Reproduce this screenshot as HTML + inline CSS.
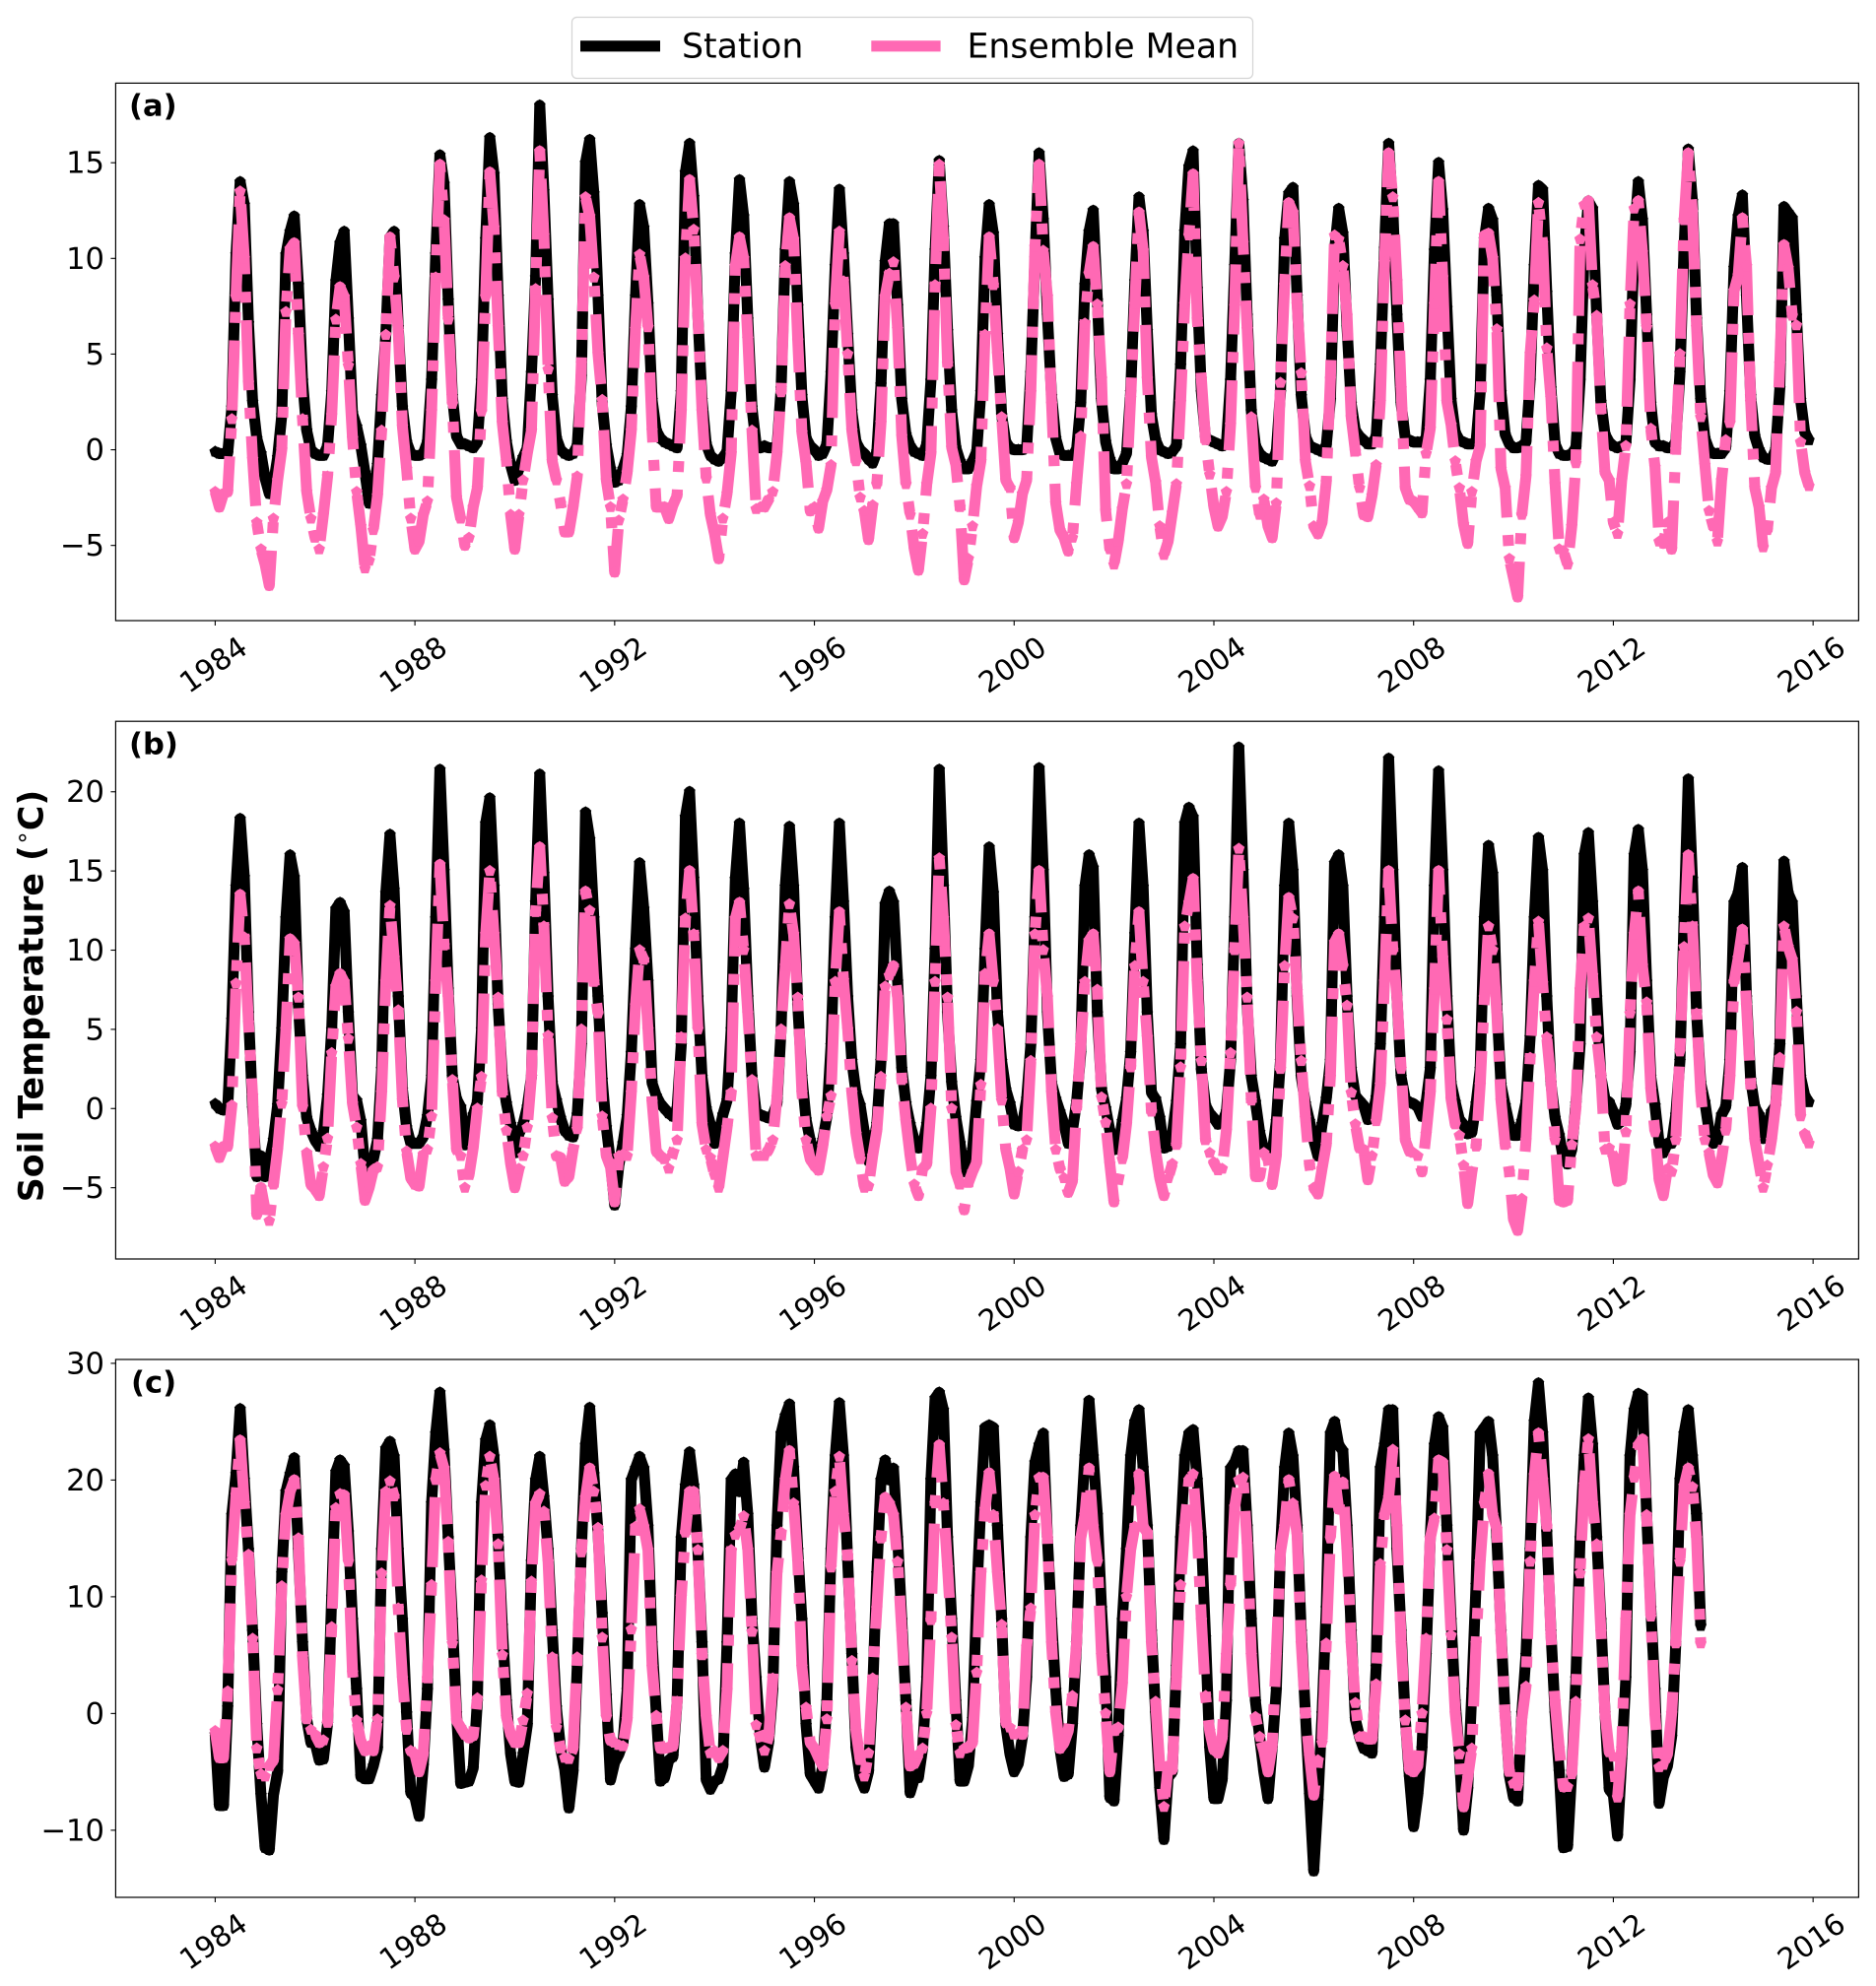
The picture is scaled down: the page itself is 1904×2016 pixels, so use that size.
<!DOCTYPE html>
<html lang="en">
<head>
<meta charset="utf-8">
<title>Soil Temperature: Station vs Ensemble Mean</title>
<style>
html,body{margin:0;padding:0;background:#fff;}
svg{display:block;font-family:"DejaVu Sans","Liberation Sans",sans-serif;}
</style>
</head>
<body>
<svg id="chart" xmlns="http://www.w3.org/2000/svg" width="1904" height="2016" viewBox="0 0 1904 2016">
<rect x="0" y="0" width="1904" height="2016" fill="#fff"/>
<g id="panels"></g>
<g>
<rect x="580.5" y="17.5" width="691" height="62" rx="5" ry="5" fill="#fff" stroke="#d4d4d4" stroke-width="1.2"/>
<line x1="589" y1="46.8" x2="670" y2="46.8" stroke="#000" stroke-width="11.1"/>
<text x="692" y="58.5" font-size="34.7" fill="#000">Station</text>
<line x1="884.3" y1="46.8" x2="954.6" y2="46.8" stroke="#FF69B4" stroke-width="11.1"/>
<text x="981.5" y="58.5" font-size="34.7" fill="#000">Ensemble Mean</text>
</g>
<text transform="translate(43.5,1011) rotate(-90)" text-anchor="middle" font-size="34.7" font-weight="bold" fill="#000">Soil Temperature (<tspan font-weight="normal" font-size="24" dy="-13">∘</tspan><tspan dy="13">C)</tspan></text>
</svg>
<script>
const startYear = 1984;
const xTickYears = [1984,1988,1992,1996,2000,2004,2008,2012,2016];
const yTicksA = [-5,0,5,10,15];
const yTicksB = [-5,0,5,10,15,20];
const yTicksC = [-10,0,10,20,30];

const stationA = [
-0.1,-0.2,-0.2,-0.2,2.2,10.2,14,12.8,6.6,2.5,0.6,-0.2,
-1.5,-2.3,-1.8,-0.4,1.8,10.2,11.4,12.2,8.6,3.6,1,0,
-0.2,-0.3,-0.3,0.2,3,8.8,10.8,11.4,6.8,1.9,1.2,0.2,
-1.2,-2.8,-2.2,-0.8,2.8,6,11.1,11.4,6.4,2.2,0.4,-0.2,
-0.3,-0.3,-0.2,0.4,3.6,10.2,15.4,13.9,7.8,2.8,0.7,0.3,
0.3,0.2,0.1,0.4,3.6,11,16.3,14.4,8,2.6,0.4,-0.8,
-1.6,-1,-0.4,0.1,4,9,18,13.5,7.8,2.8,0.6,0,
-0.2,-0.3,-0.2,0.2,3.8,15,16.2,13.4,8,2.4,0.2,-1,
-1.7,-1.6,-1,-0.3,2.2,8,12.8,11.6,7.6,2.6,1,0.6,
0.4,0.3,0.2,0.1,3,14.5,16,13.2,7,2.6,0.3,-0.3,
-0.5,-0.6,-0.4,-0.1,3,10.2,14.1,12.2,6.8,2.2,0.3,0.1,
0.2,0.1,0.1,0.1,3.2,10.4,14,12.8,7.5,2.8,0.6,0.2,
0,-0.3,-0.2,0.3,4,9.6,13.6,10.2,6,2,0.4,0,
-0.2,-0.5,-0.7,-0.1,3.4,9.8,11.8,11.8,7.5,2.6,0.8,0.2,
-0.1,-0.2,-0.3,0.3,3.6,10.4,15.1,11.6,6.2,2,0.1,-0.6,
-1,-1,-0.6,-0.1,3,10,12.8,11.3,6,1.8,0.4,0.1,
0,0,0,0.1,4,10,15.5,12,7,2.8,0.6,-0.2,
-0.3,-0.3,-0.3,0,2.4,8.6,11.4,12.5,7.8,2.6,0.4,-0.5,
-1,-1,-0.7,-0.2,3,8.8,13.2,11.4,6.2,1.8,0.5,0,
-0.1,-0.2,-0.1,0.2,4.4,11.4,14.8,15.6,8.4,3,0.6,0.5,
0.4,0.3,0.2,0.3,3.6,9.6,16,13,7,2,0.2,-0.2,
-0.4,-0.5,-0.6,-0.1,3,11,13.4,13.7,8,2.8,0.7,0.2,
0.1,0,-0.1,0.2,2.6,10.4,12.6,11.3,6.4,2.4,1,0.7,
0.5,0.3,0.3,0.7,4.4,10.5,16,12.6,7,2.4,0.6,0.5,
0.4,0.4,0.4,0.6,3.6,10.4,15,12.5,7.4,2.6,0.9,0.5,
0.4,0.3,0.3,0.4,3,11,12.6,12,8,3,0.8,0.3,
0.1,0.1,0.2,0.4,3.6,9.6,13.8,13.6,8.2,3.2,0.3,-0.2,
-0.3,-0.3,-0.2,0.1,3.6,10.4,13,12.6,7,2.5,0.8,0.4,
0.2,0.1,0.2,0.3,3.6,11,14,12,7,2.4,0.4,0.2,
0.2,0.1,0.1,0.4,4,10.6,15.7,13,6.8,2.6,0.6,0,
-0.2,-0.2,-0.2,0.1,3,9.5,12.2,13.3,8,2.8,0.7,0,
-0.4,-0.5,-0.5,0,3.2,12.7,12.4,12.1,7,2.6,0.9,0.5
];
const ensembleA = [
-2.2,-3,-2.3,-2.2,1.6,8,13.5,10,3.5,-0.5,-3.8,-5.2,
-6,-7.1,-3.6,-1.6,0,7.2,10.5,10.8,6,1.6,-2.2,-3.6,
-4.6,-5.2,-3.4,-1.4,1.8,6.8,8.5,8,4.4,0.6,-2.2,-4,
-6.2,-5.8,-4.2,-2.4,1,6,11.1,9,6.2,1.2,-1,-3.6,
-5.2,-4.8,-3.4,-2.7,2,9,14.9,12,6.8,2.4,-2.5,-3.6,
-5,-4.6,-3,-2,2,8,14.5,11.6,6.4,1.4,-0.6,-3.4,
-5.2,-3.4,-1.6,-0.2,1,8.4,15.6,11.2,4.2,-0.6,-1.6,-2.8,
-4.3,-4.3,-3,-1.4,4.5,13.2,12.2,9,5,2.6,-1.6,-3,
-6.4,-3.7,-2.6,-1.2,1,6.3,10.2,9,6.4,1,-3,-3,
-3,-3.6,-2.9,-2.4,2,10,14.1,11.5,7,2,-1.5,-3.4,
-4.4,-5.7,-3.6,-2.3,-0.2,9.6,11.1,10,5.8,1,-3.1,-3,
-3,-2.6,-2.2,-0.2,3,9.6,12.1,11,5.7,0.9,-0.7,-3.2,
-3,-4.1,-2.7,-2.1,-0.8,7.6,11.4,8.8,5,1,-0.6,-2.5,
-3.2,-4.7,-2.9,-1.8,1.4,8,9.2,9.8,6.3,0.7,-1.8,-3.4,
-5.2,-6.3,-4.4,-1.8,-0.2,8.6,14.9,11,4.5,0.1,-0.8,-3,
-6.8,-5.7,-4,-1.9,-0.6,6,11.1,8.6,5,1.7,-1.6,-2,
-4.6,-3.8,-2.3,-1.6,3,10.6,14.9,10.4,8,2.4,-2.8,-4.2,
-4.6,-5.3,-4.6,-1.8,0.7,6.6,9.2,10.6,7.6,3.7,-3.2,-5.2,
-6,-4.8,-3.1,-1.8,2.7,7.6,12.4,10.4,3.7,-0.4,-1.7,-4,
-5.5,-4.8,-3.3,-1.8,2.5,7.6,11.2,14.4,6.8,3.7,0.5,-1.3,
-3,-4,-3.5,-2.2,1.3,7.5,16,10.8,6.3,1.7,-2,-3.4,
-2.6,-4,-4.6,-2.8,3.5,8.6,12.9,12.4,7.6,4,-0.6,-1.9,
-4,-4.4,-3.8,-1.7,3.7,11.2,11,9.6,7,1.7,-0.1,-2,
-3.4,-3.5,-2.4,-0.8,2.5,9.8,15.5,13.2,8.8,3.2,-2,-2.6,
-2.7,-3,-3.3,-0.2,1.1,7.6,14,9,2.5,1.3,-0.6,-2,
-3.9,-4.9,-2.2,-0.6,0.2,11.2,11.3,10,6.3,-1,-2,-5.7,
-6.7,-7.7,-3.4,-1.4,5,7.8,12.9,10.8,5.3,2.7,-1.8,-5.2,
-5.3,-6,-4,-0.7,11,12.8,13,8.6,7,2.1,-1.2,-1.6,
-3.8,-4.4,-1.6,0.2,7.6,12.6,13,10.3,6.4,1.1,-0.9,-4.8,
-4.9,-3.8,-5.2,0,5,12,15.5,12.4,6.4,1.7,-0.8,-3.2,
-4,-4.8,-1.6,0.5,1.4,8.3,9.1,12.1,9.6,2.5,-2,-3,
-5.1,-4.2,-2,-1.2,4.5,10.7,9.5,7,6.5,0.4,-1.2,-1.9
];
const stationB = [
0.3,0,-0.1,0,5.6,14,18.3,14.6,6,0,-4.3,-3,
-4.3,-3.3,-2,0.2,5,12,16,14.6,6.5,2,-0.6,-1.4,
-2,-2.4,-1.5,0.8,5,12.6,13,12.4,6,0.8,0.5,-0.8,
-3.9,-3.4,-3.2,-2,2.5,13.6,17.3,13.8,7,1.2,-1.2,-2.2,
-2.2,-2.2,-1.8,-0.5,2,12,21.4,15,7.5,2,0.6,0.1,
-2.3,-1.6,-0.4,0.4,5,18,19.6,14,6.5,2,0.3,-1,
-2.8,-1.6,-1,0.1,2,13,21.1,14.8,7,1.6,0.5,-0.6,
-1.4,-1.7,-1.8,-0.4,4,18.7,17,12,7,1.8,-1.2,-3.4,
-6.1,-3.6,-2.2,-0.5,3.5,10,15.5,12.6,8,1.6,0.8,0.3,
0,-0.3,-0.5,0,4,18.4,20,14.5,7,2,0,-1,
-2.2,-1.6,-0.4,0.5,5,14.5,18,13.8,7,2,-0.2,-0.4,
-0.5,-0.6,-0.4,0.3,5,14,17.8,14,6.5,2,-0.7,-2,
-2.8,-3,-2,-0.5,4,12,18,13,7,3,1,0.2,
-1.5,-3.3,-2.4,-1,3,12.9,13.7,13,8,2.5,0.3,-1,
-2,-2.5,-2.4,-1,2,10,21.4,14,6,1.6,-0.6,-2.2,
-4,-3.6,-2.6,0.4,3,10,16.5,13.6,6,3,1.2,0.3,
-1,-1.1,-1,0.6,4,12,21.5,15,6,1.6,0.6,-0.2,
-1,-2.2,-1.4,0.4,3.5,14,16,15.2,6,1.2,0,-1.4,
-2.6,-2.5,-0.8,0.6,3.5,11,18,14,6,1,0.6,-0.6,
-2.5,-2.4,-1.6,0.4,4,18,19,18.4,9,2.4,0.2,-0.3,
-0.6,-1,-0.9,-0.2,3,12,22.8,15,6.5,2,0.4,-1.5,
-2.6,-2.7,-2.8,-0.8,3,14,18,15,7,2,0.3,-0.8,
-2,-3,-1,0.6,3,15.5,16,14,7,2.5,0.8,0.5,
0.2,-0.7,-0.6,0.7,4,12,22.1,15,7,2,0.6,0.4,
0.3,0.1,-0.5,0.4,2.5,14,21.3,15,7,1.6,0.4,-0.7,
-1,-1.6,-1.5,0.3,2.5,12,16.6,14.8,6.5,1.5,0.2,-1,
-1.7,-1.7,-0.8,0.4,4.5,12,17.1,15,7,1.6,-0.6,-1.7,
-3.2,-3.5,-2.6,0.3,4,16,17.4,13,7,2,0.6,0.4,
-0.2,-1,-0.8,0.2,3.5,16,17.6,15,8,2,0.2,-2.2,
-2.8,-2.2,-2.2,-0.4,3,12,20.8,14.5,6,1.6,0.4,-1.4,
-2.2,-2,-0.4,0.1,3,13,13.6,15.2,7,1.8,0.1,-0.4,
-1.9,-1.2,-0.2,0.2,4,15.6,13.6,13,7,2,0.8,0.4
];
const ensembleB = [
-2.4,-3.1,-2.4,-2.4,0.2,7.9,13.5,10.8,5.4,0.8,-6.7,-5,
-6.4,-7.1,-4.8,-2.6,0.3,5,10.7,10.4,7,0.1,-2.8,-4.8,
-5.1,-5.5,-3.7,-1.9,3.5,7.7,8.5,8,4.4,0.3,-1.2,-3.5,
-5.8,-5,-3.9,-3.7,1,8,12.8,9.5,6.2,0.5,-2.7,-4.4,
-4.8,-4.9,-2.9,-2.6,-0.5,8,15.4,10.3,7,1.8,-2.6,-3,
-5,-4.2,-2.5,0,2,11,15,11,7,1,-1.4,-3.5,
-5,-3.8,-3,-1.2,2,12.4,16.5,11.5,4.6,-0.6,-3,-3.1,
-4.6,-4.3,-2.6,-1.3,5,13.7,12.5,8,6,-0.5,-3,-3.7,
-5.9,-3,-2.9,-3,1,6.5,10,9.4,5,0.4,-2.7,-3,
-3.2,-3.8,-2.8,-2,4.5,12,15,11,5,-1,-2.6,-3.1,
-4.2,-5,-3.1,-1.2,1,12,13,10,6,1.8,-3,-3,
-3,-2.6,-2,0.7,5,9,12.9,11,7,1,-2,-3.2,
-3.6,-3.9,-2.4,-0.5,0.8,8,12.4,8.1,5,1,-1.6,-3.2,
-5,-4.9,-3,-1.4,2,7.7,8.4,9,7,1.8,-0.8,-3,
-4.8,-5.5,-3.8,-3.5,0,8,15.8,12,7,0,-4,-4.8,
-6.4,-4.7,-4,-3.4,1.5,8.5,11,8,5,0.5,-2.6,-3.8,
-5.4,-4,-2.6,-2,3,11,15,10,7,1,-2.6,-3.8,
-4.4,-5.3,-4.6,0,4,8,10.6,11,7.5,0.7,-0.9,-3.5,
-5.9,-4.5,-3.2,-1,2.6,9,12.4,8,4.5,-0.2,-2.7,-4.4,
-5.5,-4.4,-3.5,-2.3,2.6,11.5,13,14.5,8,3,-2,-2.8,
-3.4,-3.9,-3.8,-1.4,3.5,10,16.4,12,7,0.5,-4.3,-4.3,
-2.8,-3.2,-4.8,-3,2.5,9,13.3,12,7.4,3,-0.6,-3.6,
-5,-5.4,-3.8,-2.3,2,10.5,11,9,6.5,1,-1,-2.5,
-2.6,-4.5,-3,-0.8,1.5,8,15,10,7,2.5,-2,-2.7,
-2.8,-3,-4,-1.6,1,7.5,15,9.5,5.6,0.6,-1,-1.7,
-3.6,-6,-4,-2.4,1.5,7,11.5,10,6,0.5,-2.3,-4,
-7,-7.7,-5.7,-2,3.2,8,11.8,7.9,4.5,1.7,-2,-5.8,
-5.9,-5.8,-2.3,0,7.5,11.5,12,8.4,4.5,2.1,-2.6,-2.5,
-3,-4.6,-4.5,-1.5,6,11,13.7,9,6.7,1.2,-1.5,-4.5,
-5.5,-3.8,-4,-2,3.6,10.2,16,11.5,6,1,-2,-2.8,
-4.2,-4.7,-3.2,-1.4,2,8,9.5,11.3,6.5,1.5,-2,-3.5,
-5,-3.6,-2,0.2,3.2,11.5,10.2,9.4,6.1,-0.5,-1.6,-2.2
];
const stationC = [
-1.8,-7.9,-7.9,0.5,17,20.5,26.1,20,14,7,-1,-7,
-11.5,-11.7,-7,-5,12,19,20.5,21.9,14,6,-0.5,-2.5,
-2.5,-4,-3.9,-0.9,10,20.7,21.7,21.2,15.5,8,2,-5.4,
-5.6,-5.6,-4.5,-3,14,22.7,23.3,22,14,8,0,-6.8,
-7.2,-8.8,-4.5,2,18,24,27.5,22.5,15,8,0,-6,
-5.9,-5.8,-4.7,1,18,23.4,24.7,22,15,7.5,1,-3.5,
-5.8,-5.9,-3.5,-1,13,20,22,18.5,14,7,0.5,-3,
-4.8,-8.1,-5,4,14,23,26.2,20.5,15.5,8.5,1.5,-5.7,
-4.2,-3.5,-2.5,2,20,21,22,21,16,6,0,-5.8,
-5.5,-4,-3.7,1,15,19.5,22.4,19.5,14,6,-5.7,-6.5,
-5.8,-5.6,-4.5,6,20,20.5,19,21.5,17,8,3,-2,
-4.6,-2.5,2,16,24,25.5,26.5,21,14,8,-1,-5.2,
-5.8,-6.4,-4.5,1,14,22,26.6,22,13,5,-3,-5.5,
-6.4,-5,2,12,20,21.7,20,21,15,8,1,-6.8,
-5.6,-5.5,-3,3,20,27,27.5,26,15,8,1,-5.8,
-5.8,-4.5,-0.5,10,18,24.5,24.7,24.5,16,8,-1,-3.5,
-5,-4.3,-2,3,15,21.5,23,24,15,8,2,-3,
-5.4,-5.2,-1,6,16,22,26.8,22,17,9,3,-7.2,
-7.5,-2,8,14,22,25,26,21,16,7,0,-6.5,
-10.8,-5.5,-5,4,15,22,24,24.3,20,15,6.5,-3,
-7.3,-7.3,-5.7,1,21,21.5,22.5,22.5,16,8,1,-2,
-5,-7.3,-3,2,14,21,24,22,16,7,0,-7,
-13.5,-7.5,0,9,24,25,23,22.5,16,7,-0.5,-2,
-3,-3.2,-3.4,4,21,23,26,26,14,7,-0.5,-5.5,
-9.7,-7,-3,5,15,23,25.4,24.5,16,8,1,-3.5,
-10,-6.5,2,11,24,24.5,25,22,15,7,0,-5.3,
-7.2,-7.5,0,5,14,25,28.3,24,15.5,7,0,-5,
-11.5,-11.4,-5,3,15,22,27,23,15,8,0,-6.5,
-7,-10.5,-4,3,22,26,27.4,27.2,17,9,2,-7.7,
-5.5,-4.5,-2,6,20,24,26,22,17,7.5
];
const ensembleC = [
-1.5,-3.8,-3.8,1.9,13.1,18.7,23.4,18,13.6,6.4,-3,-5.2,
-5.4,-4.5,-4,2,10.9,17,19,20,15,4.8,-0.5,-1.4,
-1.8,-2.5,-2.3,-0.8,7.4,17.6,18.8,18.7,13,3.5,-0.6,-2.4,
-3.2,-2.8,-3.2,-0.5,12,19,19.9,18.6,9,3,-1.4,-3.2,
-3.5,-5,-3.5,3,11,20,22.3,21,14.7,6,-0.6,-1.2,
-1.8,-2.1,-1.9,1.3,11.4,19.5,22,20,14.5,5,-0.3,-1.8,
-2.5,-2.5,-0.6,1.7,11.3,18,18.8,17.3,13,4.8,-1.2,-3,
-3.8,-3.9,-3,4.8,13.8,18.5,21,19,15.9,6.5,-0.3,-2.3,
-2.5,-2.7,-2.8,-0.5,7.2,16,17.5,16,14,4,-0.2,-3,
-3,-2.9,-2.8,1,10,15.5,19,19,14,5,-0.3,-3.4,
-3.2,-3.8,-3.2,2,14,15.3,15.8,16.9,14,7,-1,-2,
-3.2,-2,3,12,15.5,20,22.5,18,13,4,0.5,-2.5,
-3,-3.8,-4.5,-0.5,12.5,19,22,17,13.5,4.5,-1.5,-4,
-5.4,-3.4,3,9,15,18.5,18,17,13,7,0.5,-4.5,
-4.3,-3.5,-3,0,8,18,23,18,12.5,6.5,-1,-3.4,
-3,-2.9,-2.5,3.5,12,17.5,20.6,17,12,7.6,-0.8,-1.2,
-1.8,-1.7,-1.8,5.7,9,17,20.2,20.2,15,6,0,-3,
-2.5,-1.5,1.5,6,15,17,21,16,13,5,0,-5,
-1.5,-1.2,2.5,10,14,16,20.5,16,15.5,6,1,-4.5,
-8,-4.5,-4.8,3,11,16,20,20.5,15.5,8,1.5,-1.5,
-3.1,-3.4,-2.1,5,11,17.7,20,20.2,14.5,5,-0.3,-2,
-3.2,-5,-2.8,5,13.8,16,20,18,15.3,6,0,-3.7,
-7,-4,-2.5,6,15,20.3,17.5,19.8,14,6,0.9,-2,
-2,-2.2,-2.2,2.5,12.8,17,18.5,22.6,16,6,-0.6,-4.8,
-5,-4.5,0,6.4,15,16.7,21.7,21.5,14,6.7,0,-3.5,
-8,-5.5,-3,6,13,18,20.5,17,15.8,6.7,-0.3,-5,
-6,-6.2,-0.5,2.3,13,20.4,24,20,16,6.7,1,-3,
-6.3,-6.3,-5.2,1,12,19.6,23.5,18,14.5,7,0,-3.3,
-3.7,-7.2,-3,8,17,20.2,23,23.5,17,8.3,-0.2,-4.6,
-4.4,-3.5,0,6,13,19.5,21,19.4,15,6
];

const NS = 'http://www.w3.org/2000/svg';
const LINE_W = 11.11;
const X_LEFT = 117.4, X_RIGHT = 1886.4;
const PX_PER_YEAR = 50.68, X_ORIGIN = 218.4;

function xScale(year){ return X_ORIGIN + (year - startYear) * PX_PER_YEAR; }
function monthToYear(i){ return startYear + i / 12; }
function makeYScale(top, bottom, domMin, domMax){
  return function(v){ return top + (domMax - v) / (domMax - domMin) * (bottom - top); };
}
function mk(tag, attrs, parent){
  const el = document.createElementNS(NS, tag);
  for (const k in attrs) el.setAttribute(k, attrs[k]);
  parent.appendChild(el);
  return el;
}
function pentagon(cx, cy, r){
  const pts = [];
  for (let k = 0; k < 5; k++){
    const a = -Math.PI / 2 + k * 2 * Math.PI / 5;
    pts.push((cx + r * Math.cos(a)).toFixed(1) + ',' + (cy + r * Math.sin(a)).toFixed(1));
  }
  return pts.join(' ');
}
function drawSeries(group, values, yScale, color, dashed, key){
  const pts = values.map(function(v, i){
    return xScale(monthToYear(i)).toFixed(2) + ',' + yScale(v).toFixed(2);
  }).join(' ');
  const attrs = {points: pts, fill: 'none', stroke: color, 'stroke-width': LINE_W, 'stroke-linejoin': 'round', 'stroke-linecap': 'butt'};
  if (dashed) attrs['stroke-dasharray'] = [6.4 * LINE_W, 1.6 * LINE_W, LINE_W, 1.6 * LINE_W].join(' ');
  const line = mk('polyline', attrs, group);
  
  
  values.forEach(function(v, i){
    const m = mk('polygon', {points: pentagon(xScale(monthToYear(i)), yScale(v), 6.2), fill: color}, group);
    
    
  });
}
function drawPanel(root, letter, top, bottom, domMin, domMax, yTicks, station, ensemble, labelX){
  const y = makeYScale(top, bottom, domMin, domMax);
  const g = mk('g', {}, root);
  
  
  const clipId = 'clip-' + letter;
  const defs = mk('defs', {}, g);
  const cp = mk('clipPath', {id: clipId}, defs);
  mk('rect', {x: X_LEFT, y: top, width: X_RIGHT - X_LEFT, height: bottom - top}, cp);
  const marks = mk('g', {'clip-path': 'url(#' + clipId + ')'}, g);
  
  
  drawSeries(marks, station, y, '#000000', false, 'station-' + letter);
  drawSeries(marks, ensemble, y, '#FF69B4', true, 'ensemble-' + letter);
  const frame = mk('rect', {x: X_LEFT, y: top, width: X_RIGHT - X_LEFT, height: bottom - top, fill: 'none', stroke: '#000', 'stroke-width': 1.2}, g);
  
  
  xTickYears.forEach(function(yr){
    const px = xScale(yr);
    const t = mk('line', {x1: px, x2: px, y1: bottom, y2: bottom + 5, stroke: '#000', 'stroke-width': 1.1}, g);
    
    
    const lbl = mk('text', {transform: 'translate(' + (px - 2).toFixed(1) + ',' + (bottom + 44.5) + ') rotate(-35)', 'text-anchor': 'middle', y: 10.5, 'font-size': 29.5, fill: '#000'}, g);
    lbl.textContent = String(yr);
    
    
  });
  yTicks.forEach(function(v){
    const py = y(v);
    const t = mk('line', {x1: X_LEFT - 5, x2: X_LEFT, y1: py, y2: py, stroke: '#000', 'stroke-width': 1.1}, g);
    
    
    const lbl = mk('text', {x: 106, y: py + 10.5, 'text-anchor': 'end', 'font-size': 30.6, fill: '#000'}, g);
    lbl.textContent = (v < 0 ? '\u2212' + Math.abs(v) : String(v));
    
    
  });
  const tag = mk('text', {x: labelX, y: top + 33.3, 'font-size': 30.6, 'font-weight': 'bold', fill: '#000'}, g);
  tag.textContent = '(' + letter + ')';
  
  
}
const root = document.getElementById('panels');
drawPanel(root, 'a', 84.4, 630, -8.93, 19.16, yTicksA, stationA, ensembleA, 131);
drawPanel(root, 'b', 732.2, 1278, -9.5, 24.45, yTicksB, stationB, ensembleB, 131);
drawPanel(root, 'c', 1380, 1926, -15.75, 30.33, yTicksC, stationC, ensembleC, 133);
</script>
</body>
</html>
